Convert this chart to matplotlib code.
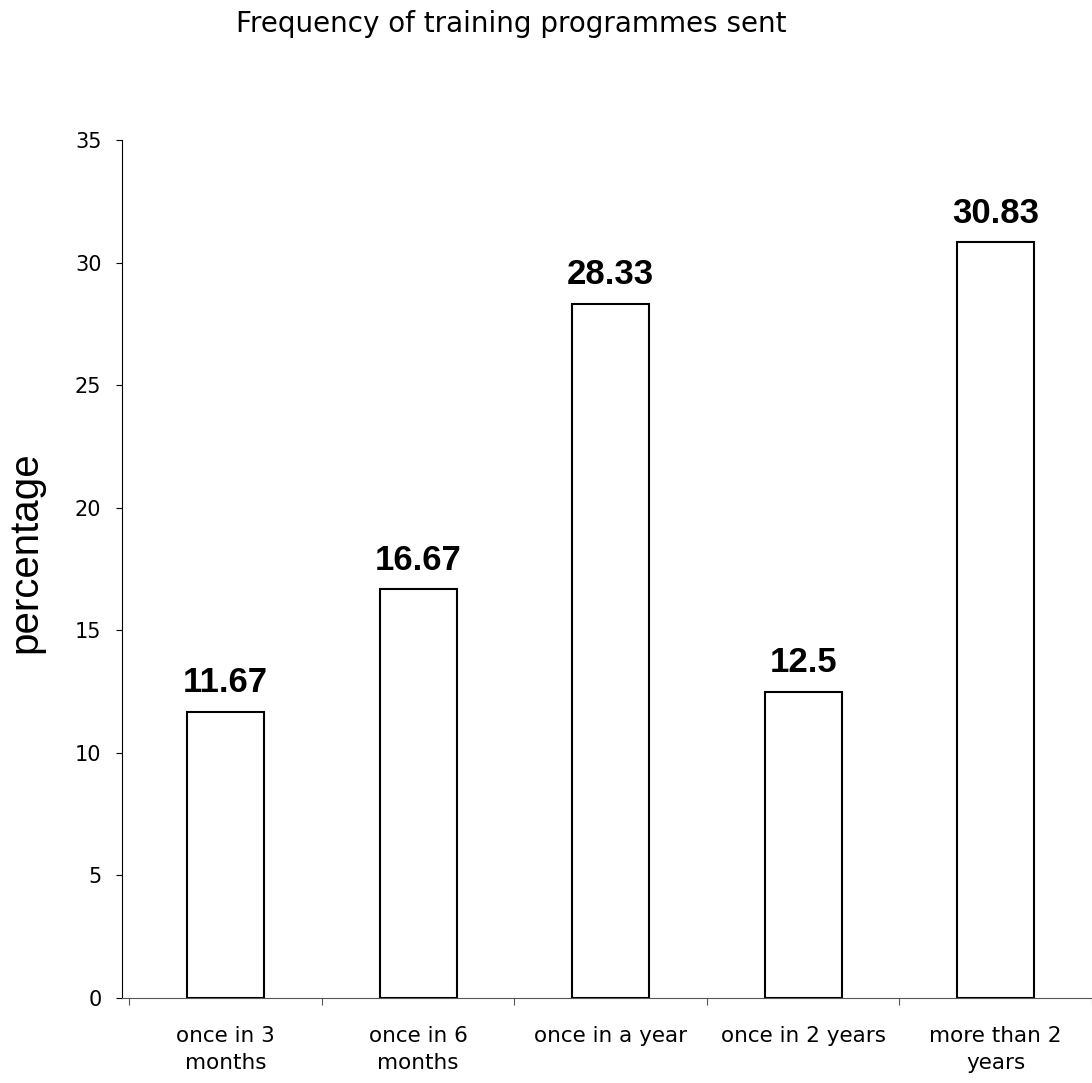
import matplotlib
matplotlib.use("Agg")
import matplotlib.pyplot as plt

categories = ["once in 3\nmonths", "once in 6\nmonths", "once in a year", "once in 2 years", "more than 2\nyears"]
values = [11.67, 16.67, 28.33, 12.5, 30.83]
value_labels = ["11.67", "16.67", "28.33", "12.5", "30.83"]
yticks = [0, 5, 10, 15, 20, 25, 30, 35]

plt.rcParams['font.family'] = ['DejaVu Sans']
fig = plt.figure(figsize=(10.92, 10.83), dpi=100)
ax = fig.add_axes([0.112, 0.0785, 0.888, 0.7922])

x = list(range(len(categories)))
ax.bar(x, values, width=0.4, facecolor='white', edgecolor='black', linewidth=1.5)
for xi, v, lab in zip(x, values, value_labels):
    ax.text(xi, v + 0.8, lab, ha='center', va='baseline', fontsize=25,
            fontweight='bold', family=['Liberation Sans'])

ax.set_xlim(-0.536, 4.464)
ax.set_ylim(0, 35)
ax.set_yticks(yticks)
ax.set_yticklabels([str(t) for t in yticks], fontsize=15)
ax.set_xticks([i + 0.5 for i in range(-1, 5)], minor=False)
ax.set_xticklabels([])
ax.set_xticks(x, minor=True)
ax.set_xticklabels(categories, minor=True, fontsize=15.5, linespacing=1.45)
ax.tick_params(axis='x', which='minor', length=0, pad=20)
ax.tick_params(axis='x', which='major', length=5, direction='out', color='#555555')
ax.tick_params(axis='y', length=4, direction='out', pad=11)
ax.spines['top'].set_visible(False)
ax.spines['right'].set_visible(False)
ax.spines['bottom'].set_color('#555555')
ax.set_ylabel('percentage', fontsize=29, family=['Liberation Sans'])
ax.yaxis.set_label_coords(-0.080, 0.52)
fig.text(0.468, 0.991, 'Frequency of training programmes sent', ha='center', va='top', fontsize=20)

fig.savefig('out.png', dpi=100)
